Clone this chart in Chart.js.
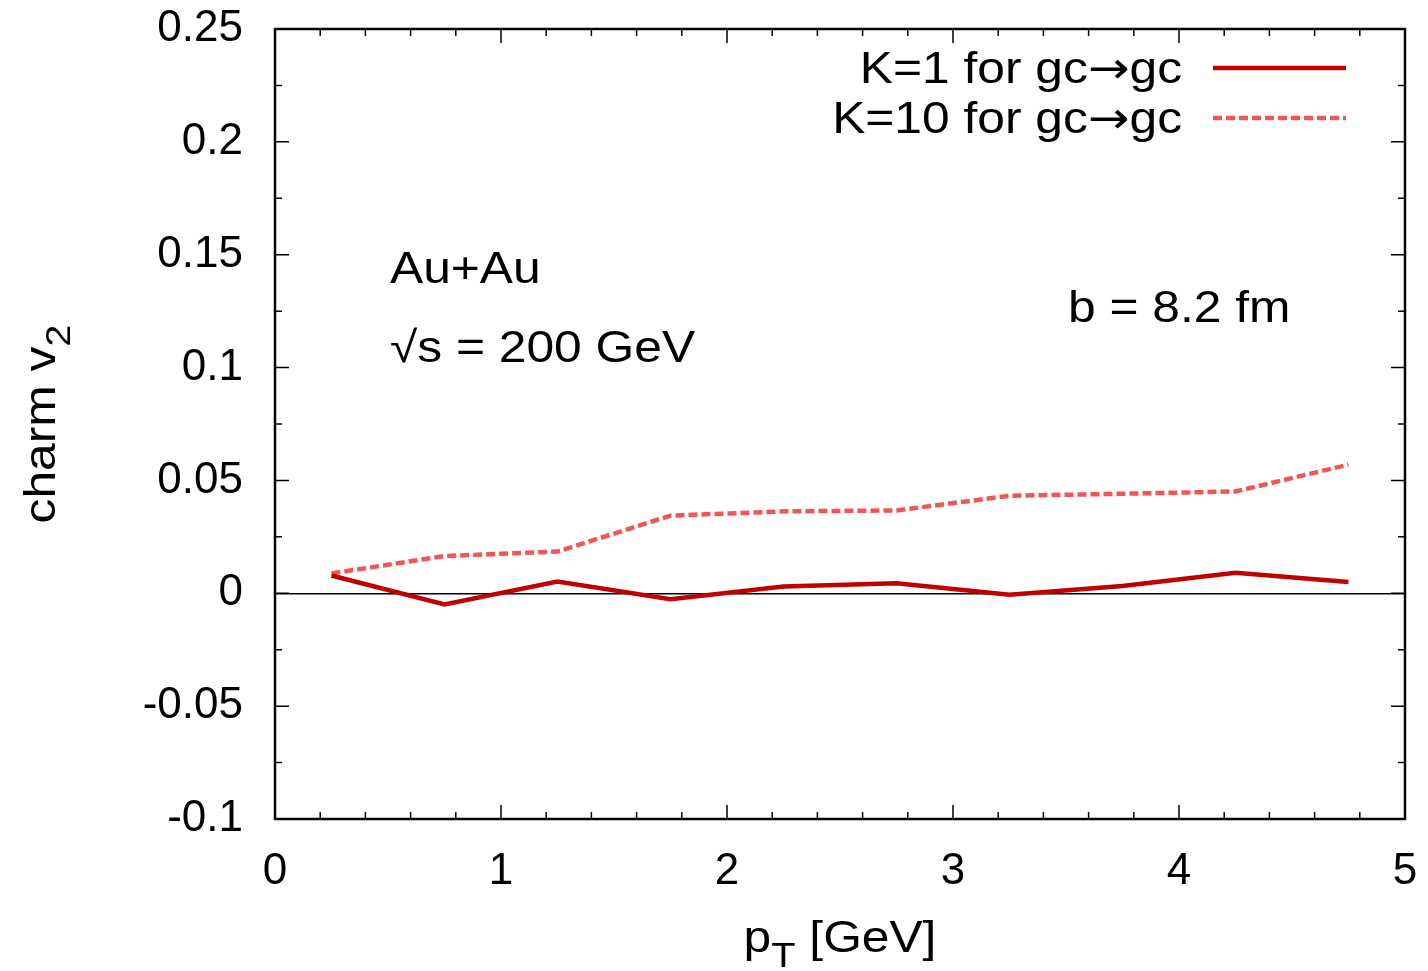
<!DOCTYPE html>
<html>
<head>
<meta charset="utf-8">
<script src="https://cdn.jsdelivr.net/npm/chart.js@4/dist/chart.umd.min.js"></script>
<style>
  html, body { margin: 0; padding: 0; background: #fff; }
</style>
</head>
<body>
<canvas id="v2Chart" width="1428" height="971"></canvas>
<script>
// pT bin centres [GeV]
const ptValues = [0.25, 0.75, 1.25, 1.75, 2.25, 2.75, 3.25, 3.75, 4.25, 4.75];
// charm v2 for K=1 and K=10 (gc -> gc)
const v2K1 = [0.0079, -0.0049, 0.0052, -0.0026, 0.0030, 0.0044, -0.0006, 0.0032, 0.0091, 0.0050];
const v2K10 = [0.0088, 0.0165, 0.0185, 0.0344, 0.0363, 0.0367, 0.0432, 0.0441, 0.0451, 0.0570];
const seriesLabels = ['K=1 for gc\u2192gc', 'K=10 for gc\u2192gc'];

const xRange = [0, 5];
const yRange = [-0.1, 0.25];
const xMajorStep = 1, xMinorStep = 0.2;
const yMajorStep = 0.05, yMinorStep = 0.025;

const FONT = '"Liberation Sans", Arial, Helvetica, sans-serif';
const ARROW_FONT = '"DejaVu Sans", sans-serif';
const HSCALE = 1.13;
const TEXT_SIZE = 44;

function toPoints(xs, ys) {
    return xs.map((x, i) => ({ x: x, y: ys[i] }));
}

// split a label so the arrow comes from a font with a full-width arrow
function splitArrow(str) {
    return str.split(/(\u2192)/).filter(s => s.length).map(s =>
        s === '\u2192' ? { t: s, font: ARROW_FONT } : { t: s });
}

function partFont(p, size) {
    return (p.sub ? size * 0.8 : size) + 'px ' + (p.font || FONT);
}

function richWidth(ctx, parts, size) {
    let w = 0;
    parts.forEach(p => {
        ctx.font = partFont(p, size);
        w += ctx.measureText(p.t).width;
    });
    return w;
}

function richDraw(ctx, parts, size) {
    let x = 0;
    ctx.fillStyle = '#000';
    ctx.textAlign = 'left';
    ctx.textBaseline = 'alphabetic';
    parts.forEach(p => {
        ctx.font = partFont(p, size);
        ctx.fillText(p.t, x, p.sub ? size * 0.33 : 0);
        x += ctx.measureText(p.t).width;
    });
}

// text drawn slightly widened, like the gnuplot helvetica output
function putText(ctx, parts, x, y, size, align) {
    if (typeof parts === 'string') parts = [{ t: parts }];
    ctx.save();
    const w = richWidth(ctx, parts, size) * HSCALE;
    let x0 = x;
    if (align === 'right') x0 = x - w;
    else if (align === 'center') x0 = x - w / 2;
    ctx.translate(x0, y);
    ctx.scale(HSCALE, 1);
    richDraw(ctx, parts, size);
    ctx.restore();
}

const framePlugin = {
    id: 'gnuplotFrame',
    afterDraw(chart) {
        const { ctx, chartArea: a, scales: { x, y } } = chart;
        ctx.save();

        // inward ticks on all four sides
        ctx.strokeStyle = '#000';
        ctx.lineWidth = 1.5;
        ctx.beginPath();
        const nx = Math.round((xRange[1] - xRange[0]) / xMinorStep);
        for (let i = 0; i <= nx; i++) {
            const px = x.getPixelForValue(xRange[0] + i * xMinorStep);
            const len = (i % Math.round(xMajorStep / xMinorStep) === 0) ? 14 : 7;
            ctx.moveTo(px, a.bottom); ctx.lineTo(px, a.bottom - len);
            ctx.moveTo(px, a.top); ctx.lineTo(px, a.top + len);
        }
        const ny = Math.round((yRange[1] - yRange[0]) / yMinorStep);
        for (let i = 0; i <= ny; i++) {
            const py = y.getPixelForValue(yRange[0] + i * yMinorStep);
            const len = (i % Math.round(yMajorStep / yMinorStep) === 0) ? 14 : 7;
            ctx.moveTo(a.left, py); ctx.lineTo(a.left + len, py);
            ctx.moveTo(a.right, py); ctx.lineTo(a.right - len, py);
        }
        ctx.stroke();

        ctx.lineWidth = 2.5;
        ctx.strokeRect(a.left, a.top, a.right - a.left, a.bottom - a.top);

        // axis titles
        putText(ctx, [{ t: 'p' }, { t: 'T', sub: true }, { t: ' [GeV]' }],
            (a.left + a.right) / 2, 952, TEXT_SIZE, 'center');

        const yTitle = [{ t: 'charm v' }, { t: '2', sub: true }];
        const w = richWidth(ctx, yTitle, TEXT_SIZE) * HSCALE;
        ctx.save();
        ctx.translate(55, (a.top + a.bottom) / 2);
        ctx.rotate(-Math.PI / 2);
        ctx.translate(-w / 2, 0);
        ctx.scale(HSCALE, 1);
        richDraw(ctx, yTitle, TEXT_SIZE);
        ctx.restore();

        // key: text first, then line sample
        chart.data.datasets.forEach((ds, i) => {
            const base = 83 + i * 50;
            putText(ctx, splitArrow(ds.label), 1182, base, TEXT_SIZE, 'right');
            ctx.save();
            ctx.strokeStyle = ds.borderColor;
            ctx.lineWidth = ds.borderWidth;
            ctx.setLineDash(ds.borderDash || []);
            ctx.beginPath();
            ctx.moveTo(1213, base - 15);
            ctx.lineTo(1346, base - 15);
            ctx.stroke();
            ctx.restore();
        });

        // labels inside the plot
        putText(ctx, 'Au+Au', 390, 283, TEXT_SIZE, 'left');
        putText(ctx, '\u221As = 200 GeV', 390, 362, TEXT_SIZE, 'left');
        putText(ctx, 'b = 8.2 fm', 1068, 322, TEXT_SIZE, 'left');

        ctx.restore();
    }
};

const ctx = document.getElementById('v2Chart').getContext('2d');

new Chart(ctx, {
    type: 'line',
    data: {
        datasets: [{
            label: seriesLabels[0],
            data: toPoints(ptValues, v2K1),
            borderColor: '#c00000',
            borderWidth: 4.5,
            pointRadius: 0,
            tension: 0,
            fill: false
        }, {
            label: seriesLabels[1],
            data: toPoints(ptValues, v2K10),
            borderColor: '#f25555',
            borderWidth: 4.5,
            borderDash: [9, 4],
            borderCapStyle: 'butt',
            pointRadius: 0,
            tension: 0,
            fill: false
        }]
    },
    options: {
        responsive: false,
        animation: false,
        devicePixelRatio: 1,
        layout: { padding: { top: 29, right: 23, left: 0, bottom: 0 } },
        plugins: {
            legend: { display: false },
            tooltip: { enabled: false }
        },
        scales: {
            x: {
                type: 'linear',
                min: xRange[0],
                max: xRange[1],
                afterFit: s => {
                    s.height = 152;
                    s.paddingLeft = 0;
                    s.paddingRight = 0;
                },
                grid: { display: false },
                border: { display: false },
                ticks: {
                    stepSize: xMajorStep,
                    padding: 18,
                    color: '#000',
                    font: { family: FONT, size: TEXT_SIZE },
                    maxRotation: 0,
                    callback: v => String(+v.toFixed(3))
                }
            },
            y: {
                type: 'linear',
                min: yRange[0],
                max: yRange[1],
                afterFit: s => {
                    s.width = 275;
                    s.paddingTop = 0;
                    s.paddingBottom = 0;
                },
                grid: {
                    drawTicks: false,
                    lineWidth: 1.5,
                    color: c => (c.tick && Math.abs(c.tick.value) < 1e-9) ? '#000' : 'rgba(0,0,0,0)'
                },
                border: { display: false },
                ticks: {
                    stepSize: yMajorStep,
                    padding: 32,
                    color: '#000',
                    font: { family: FONT, size: TEXT_SIZE },
                    callback: v => String(+v.toFixed(3))
                }
            }
        }
    },
    plugins: [framePlugin]
});
</script>
</body>
</html>
